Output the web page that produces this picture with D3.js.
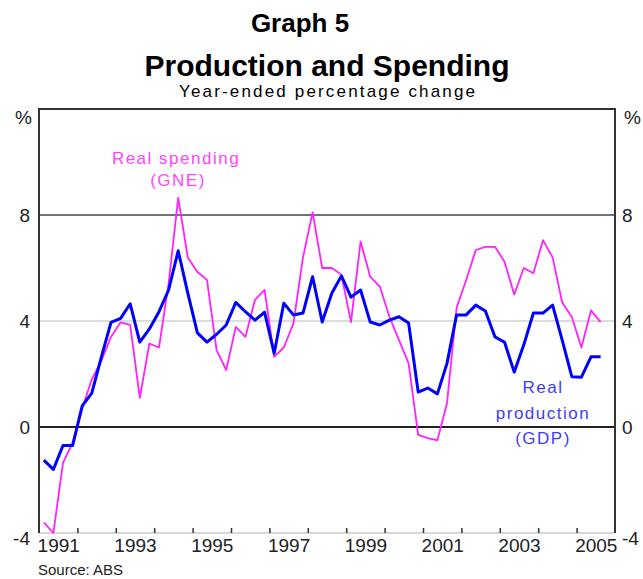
<!DOCTYPE html>
<html>
<head>
<meta charset="utf-8">
<script src="https://cdn.jsdelivr.net/npm/d3@7"></script>
<style>
  body { margin: 0; background: #fff; }
  svg { display: block; font-family: Arial, "Liberation Sans", sans-serif; }
</style>
</head>
<body>
<svg id="chart" width="643" height="579"></svg>
<script>
// quarterly, 1991 Q1 .. 2005 Q3, year-ended % change
const gdp = [
  -1.25, -1.6, -0.7, -0.7,
  0.8, 1.28, 2.65, 3.95,
  4.1, 4.65, 3.2, 3.7,
  4.35, 5.17, 6.65, 5.05,
  3.55, 3.2, 3.5, 3.85,
  4.7, 4.35, 4.03, 4.33,
  2.78, 4.67, 4.23, 4.3,
  5.67, 3.96, 5.05, 5.7,
  4.9, 5.17, 3.96, 3.85,
  4.03, 4.16, 3.92, 1.32,
  1.47, 1.25, 2.4, 4.23,
  4.23, 4.6, 4.38, 3.4,
  3.2, 2.07, 3.1, 4.3,
  4.3, 4.6, 3.28, 1.9,
  1.88, 2.65, 2.65
];
const gne = [
  -3.6, -4.0, -1.35, -0.6,
  0.7, 1.8, 2.5, 3.4,
  3.95, 3.85, 1.1, 3.15,
  3.0, 5.4, 8.65, 6.4,
  5.85, 5.55, 2.9, 2.15,
  3.78, 3.4, 4.8, 5.17,
  2.65, 3.0, 3.9, 6.4,
  8.1, 6.0, 6.0, 5.75,
  3.96, 7.0, 5.67, 5.3,
  4.16, 3.28, 2.4, -0.3,
  -0.42, -0.5, 0.9, 4.5,
  5.55, 6.68, 6.8, 6.8,
  6.23, 5.0, 6.0, 5.8,
  7.05, 6.4, 4.7, 4.16,
  3.0, 4.4, 3.96
];
const firstYear = 1991;
const yTicks = [-4, 0, 4, 8];
const yearTicks = d3.range(1992, 2006);
const yearLabels = [1991, 1993, 1995, 1997, 1999, 2001, 2003, 2005];

const svg = d3.select('#chart');
const pLeft = 39, pRight = 615, pTop = 109, pBottom = 533;

const x = d3.scaleLinear().domain([1991, 2006]).range([pLeft, pRight]);
const y = d3.scaleLinear().domain([-4, 12]).range([pBottom, pTop]);

// quarter mid points
const dateOf = i => firstYear + (i + 0.5) / 4;

// titles
svg.append('text').attr('x', 300).attr('y', 32)
  .attr('text-anchor', 'middle').style('font-weight', 'bold').style('font-size', '26px')
  .text('Graph 5');
svg.append('text').attr('x', 327).attr('y', 76)
  .attr('text-anchor', 'middle').style('font-weight', 'bold').style('font-size', '30px')
  .text('Production and Spending');
svg.append('text').attr('x', 327).attr('y', 97)
  .attr('text-anchor', 'middle').style('font-size', '17px')
  .attr('textLength', 296).attr('lengthAdjust', 'spacing')
  .text('Year-ended percentage change');

// grid lines
const grid = [
  { v: 4, c: '#dcdcdc', w: 2 },
  { v: -4, c: '#d8d8d8', w: 2 },
  { v: 8, c: '#444', w: 1.5 },
  { v: 0, c: '#222', w: 2 }
];
svg.selectAll('.grid').data(grid).enter().append('line')
  .attr('class', 'grid')
  .attr('x1', pLeft).attr('x2', pRight)
  .attr('y1', d => y(d.v)).attr('y2', d => y(d.v))
  .attr('stroke', d => d.c).attr('stroke-width', d => d.w);

// year ticks
svg.append('g')
  .attr('transform', `translate(0,${pBottom})`)
  .call(d3.axisTop(x).tickValues(yearTicks).tickSize(5).tickFormat(''))
  .call(g => g.select('.domain').remove())
  .call(g => g.selectAll('line').attr('stroke', '#333').attr('stroke-width', 1.5));

// year labels, centred in the year
svg.append('g')
  .attr('transform', `translate(0,${pBottom})`)
  .call(d3.axisBottom(x).tickValues(yearLabels.map(d => d + 0.5)).tickSize(0).tickPadding(6)
    .tickFormat(d => Math.floor(d)))
  .call(g => g.select('.domain').remove())
  .call(g => g.selectAll('text').style('font-size', '19px').attr('fill', '#222')
    .attr('font-family', 'Arial, "Liberation Sans", sans-serif'));

// frame
svg.append('path')
  .attr('d', `M${pLeft},${pBottom}V${pTop}H${pRight}V${pBottom}`)
  .attr('fill', 'none').attr('stroke', '#333').attr('stroke-width', 2);

// y axes
const yFmt = d => d;
const leftAxis = svg.append('g')
  .attr('transform', `translate(${pLeft},0)`)
  .call(d3.axisLeft(y).tickValues(yTicks).tickSize(0).tickPadding(9).tickFormat(yFmt));
const rightAxis = svg.append('g')
  .attr('transform', `translate(${pRight},0)`)
  .call(d3.axisRight(y).tickValues(yTicks).tickSize(0).tickPadding(7).tickFormat(yFmt));
[leftAxis, rightAxis].forEach(a => {
  a.select('.domain').remove();
  a.selectAll('text').style('font-size', '19px').attr('fill', '#222')
    .attr('font-family', 'Arial, "Liberation Sans", sans-serif')
    .attr('dy', d => d === -4 ? '0.6em' : '0.34em');
});
svg.append('text').attr('x', 32).attr('y', 124).attr('text-anchor', 'end')
  .style('font-size', '19px').attr('fill', '#222').text('%');
svg.append('text').attr('x', 624).attr('y', 124)
  .style('font-size', '19px').attr('fill', '#222').text('%');

// series
svg.append('clipPath').attr('id', 'plot').append('rect')
  .attr('x', pLeft).attr('y', pTop).attr('width', pRight - pLeft).attr('height', pBottom - pTop + 1);

const line = d3.line().x((d, i) => x(dateOf(i))).y(d => y(d));

svg.append('path').datum(gne)
  .attr('clip-path', 'url(#plot)')
  .attr('d', line).attr('fill', 'none')
  .attr('stroke', '#ff22ff').attr('stroke-width', 1.8).attr('stroke-linejoin', 'round');

svg.append('path').datum(gdp)
  .attr('clip-path', 'url(#plot)')
  .attr('d', line).attr('fill', 'none')
  .attr('stroke', '#0000ff').attr('stroke-width', 3).attr('stroke-linejoin', 'round');

// labels
const notes = [
  { t: 'Real spending', x: 176, y: 164, c: '#ff44ff' },
  { t: '(GNE)', x: 178, y: 186, c: '#ff44ff' },
  { t: 'Real', x: 543, y: 393, c: '#3c3cff' },
  { t: 'production', x: 543, y: 419, c: '#3c3cff' },
  { t: '(GDP)', x: 543, y: 444, c: '#3c3cff' }
];
svg.selectAll('.note').data(notes).enter().append('text')
  .attr('class', 'note')
  .attr('x', d => d.x).attr('y', d => d.y)
  .attr('text-anchor', 'middle')
  .style('font-size', '17px').style('letter-spacing', '1.5px')
  .attr('fill', d => d.c)
  .text(d => d.t);

svg.append('text').attr('x', 38).attr('y', 575)
  .style('font-size', '15px').attr('fill', '#222').text('Source: ABS');
</script>
</body>
</html>
